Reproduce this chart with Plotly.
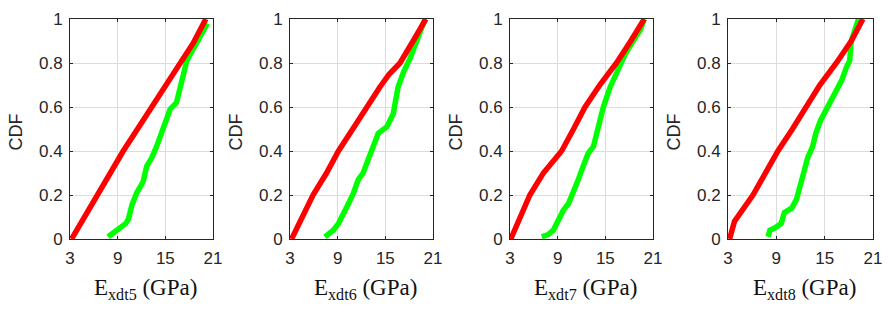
import plotly.graph_objects as go

# ---- data ----
panel_names = ["xdt5", "xdt6", "xdt7", "xdt8"]

red1_x = [3.2, 4.5, 6.4, 8.0, 9.7, 11.5, 13.3, 15.1, 16.9, 18.5, 20.1]
red1_y = [0.0, 0.08, 0.2, 0.3, 0.4, 0.5, 0.6, 0.7, 0.8, 0.89, 1.0]
green1_x = [7.8, 8.6, 9.3, 10.0, 10.35, 10.8, 11.4, 12.2, 12.65, 13.3, 13.9, 14.75, 15.6, 16.4, 17.1, 17.7, 18.3, 18.96, 19.6, 20.3]
green1_y = [0.01, 0.03, 0.05, 0.07, 0.09, 0.155, 0.21, 0.26, 0.33, 0.37, 0.42, 0.5, 0.59, 0.62, 0.72, 0.81, 0.85, 0.89, 0.935, 0.98]

red2_x = [3.2, 5.9, 7.6, 9.1, 10.9, 12.65, 14.3, 15.5, 16.85, 18.5, 20.1]
red2_y = [0.0, 0.2, 0.3, 0.4, 0.5, 0.6, 0.69, 0.75, 0.8, 0.9, 1.0]
green2_x = [7.4, 8.45, 9.1, 9.7, 10.35, 11.0, 11.6, 12.2, 12.85, 13.5, 14.1, 15.2, 16.0, 16.6, 17.3, 18.1, 18.95, 20.0]
green2_y = [0.01, 0.04, 0.07, 0.12, 0.16, 0.21, 0.27, 0.3, 0.36, 0.43, 0.48, 0.51, 0.57, 0.69, 0.76, 0.82, 0.9, 1.0]

red3_x = [3.1, 5.5, 7.2, 9.5, 11.0, 12.45, 14.3, 16.4, 18.2, 19.9]
red3_y = [0.0, 0.2, 0.3, 0.4, 0.5, 0.6, 0.7, 0.8, 0.9, 1.0]
green3_x = [7.0, 7.8, 8.45, 9.1, 9.7, 10.35, 11.0, 11.6, 12.2, 12.85, 13.5, 14.1, 14.75, 15.6, 16.4, 17.5, 18.5, 19.4, 19.9]
green3_y = [0.01, 0.02, 0.04, 0.09, 0.13, 0.16, 0.21, 0.27, 0.33, 0.39, 0.42, 0.51, 0.6, 0.69, 0.76, 0.84, 0.9, 0.95, 1.0]

red4_x = [3.2, 3.8, 6.1, 7.6, 9.2, 11.0, 12.7, 14.4, 16.45, 18.3, 19.75]
red4_y = [0.0, 0.08, 0.2, 0.3, 0.4, 0.5, 0.6, 0.7, 0.8, 0.9, 1.0]
green4_x = [7.97, 8.2, 8.8, 9.6, 10.0, 10.9, 11.5, 11.9, 12.3, 12.9, 13.5, 13.9, 14.5, 15.4, 16.2, 17.1, 17.7, 18.1, 18.3, 18.7, 19.2]
green4_y = [0.01, 0.04, 0.05, 0.07, 0.12, 0.14, 0.18, 0.24, 0.28, 0.37, 0.42, 0.48, 0.54, 0.6, 0.66, 0.72, 0.78, 0.81, 0.9, 0.95, 1.0]

x_ticks = [3, 9, 15, 21]
y_ticks = [0, 0.2, 0.4, 0.6, 0.8, 1]
y_ticklabels = ["0", "0.2", "0.4", "0.6", "0.8", "1"]

reds = [(red1_x, red1_y), (red2_x, red2_y), (red3_x, red3_y), (red4_x, red4_y)]
greens = [(green1_x, green1_y), (green2_x, green2_y), (green3_x, green3_y), (green4_x, green4_y)]

# ---- layout geometry (pixels) ----
W, H = 895, 322
panel_px = [(70, 213), (290, 433), (510, 653), (728, 873)]
top_px, bot_px = 19, 239

fig = go.Figure()
layout = dict(
    width=W, height=H,
    margin=dict(l=0, r=0, t=0, b=0, autoexpand=False),
    paper_bgcolor="white", plot_bgcolor="white",
    showlegend=False,
    font=dict(family="Liberation Sans, Arial, sans-serif", color="#262626"),
)
annotations = []
for i in range(4):
    sfx = "" if i == 0 else str(i + 1)
    xa, ya = "x" + sfx, "y" + sfx
    gx, gy = greens[i]
    rx, ry = reds[i]
    fig.add_trace(go.Scatter(x=gx, y=gy, mode="lines", xaxis=xa, yaxis=ya,
                             line=dict(color="#00FF00", width=5.5)))
    fig.add_trace(go.Scatter(x=rx, y=ry, mode="lines", xaxis=xa, yaxis=ya,
                             line=dict(color="#FF0000", width=5.5)))
    l, r = panel_px[i]
    layout["xaxis" + sfx] = dict(
        domain=[l / W, r / W], range=[3, 21], anchor=ya, automargin=False,
        tickvals=x_ticks, ticktext=[str(t) for t in x_ticks],
        showgrid=True, gridcolor="#DCDCDC", gridwidth=1,
        showline=True, linecolor="#262626", linewidth=1, mirror="ticks",
        ticks="inside", ticklen=3, tickcolor="#262626",
        tickfont=dict(size=17, color="#262626"), ticklabelstandoff=4,
        zeroline=False, fixedrange=True,
    )
    layout["yaxis" + sfx] = dict(
        domain=[1 - bot_px / H, 1 - top_px / H], range=[0, 1], anchor=xa, automargin=False,
        tickvals=y_ticks, ticktext=y_ticklabels,
        showgrid=True, gridcolor="#DCDCDC", gridwidth=1,
        showline=True, linecolor="#262626", linewidth=1, mirror="ticks",
        ticks="inside", ticklen=3, tickcolor="#262626",
        tickfont=dict(size=17, color="#262626"), ticklabelstandoff=3,
        zeroline=False, fixedrange=True,
    )
    cx = (l + r) / 2 + 4
    annotations.append(dict(
        x=cx / W, y=1 - 289 / H, xref="paper", yref="paper",
        xanchor="center", yanchor="middle", showarrow=False,
        text="E<sub>" + panel_names[i] + "</sub> (GPa)",
        font=dict(family="Liberation Serif, Times New Roman, serif", size=23, color="#111111"),
    ))
    annotations.append(dict(
        x=(l - 54.5) / W, y=1 - 132 / H, xref="paper", yref="paper",
        xanchor="center", yanchor="middle", showarrow=False, textangle=-90,
        text="CDF",
        font=dict(family="Liberation Sans, Arial, sans-serif", size=18, color="#262626"),
    ))
layout["annotations"] = annotations
fig.update_layout(**layout)
fig.write_html("out.html", config={"displayModeBar": False},
               post_script="document.body.style.margin='0';")
